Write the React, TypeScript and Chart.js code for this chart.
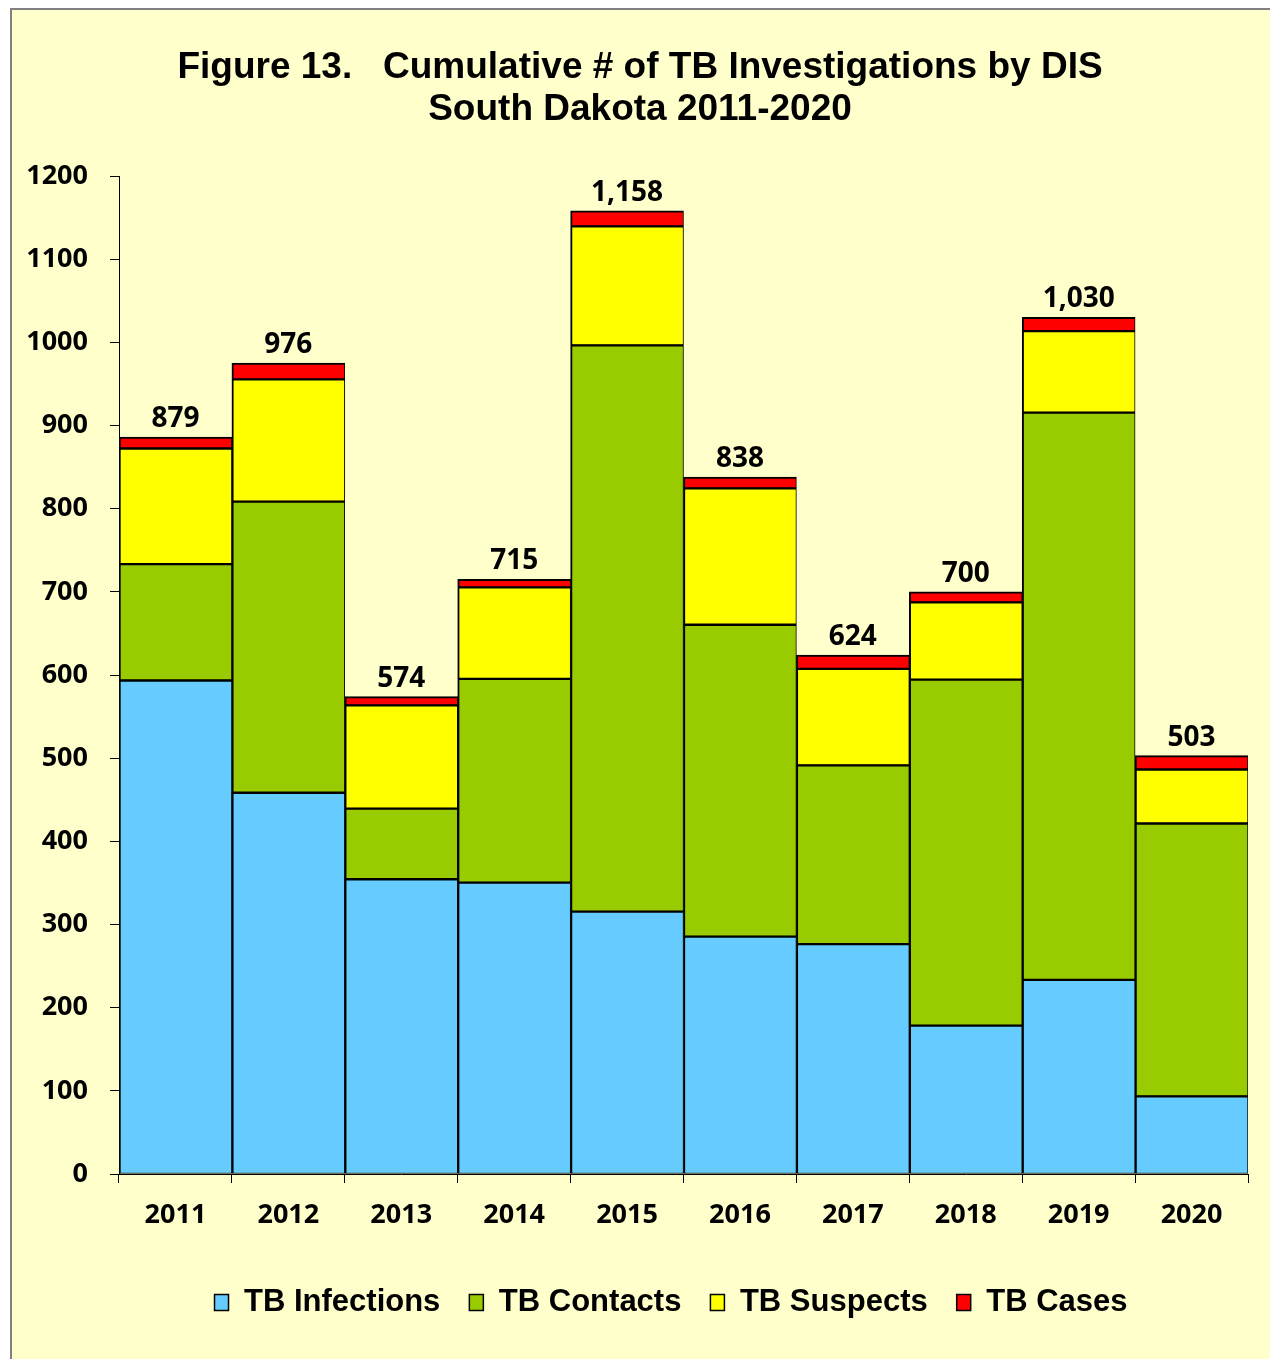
import { useEffect, useRef } from "react";
import { Chart, registerables } from "chart.js";

Chart.register(...registerables);

const years = ["2011", "2012", "2013", "2014", "2015", "2016", "2017", "2018", "2019", "2020"];
const infections = [594, 459, 355, 351, 316, 286, 277, 179, 234, 94];
const contacts = [140, 350, 85, 245, 681, 375, 215, 416, 682, 328];
const suspects = [139, 147, 124, 110, 143, 164, 116, 93, 98, 65];
const cases = [13, 19, 10, 9, 18, 13, 16, 12, 16, 16];
const totalLabels = ["879", "976", "574", "715", "1,158", "838", "624", "700", "1,030", "503"];
const titleLines = ["Figure 13.   Cumulative # of TB Investigations by DIS", "South Dakota 2011-2020"];

const tickFont = { family: "'Open Sans', sans-serif", weight: "bold" as const, size: 27 };

export default function App() {
  const ref = useRef<HTMLCanvasElement>(null);

  useEffect(() => {
    const canvas = ref.current;
    if (!canvas) return;

    const bw = { top: 2, bottom: 1, left: 2, right: 1 };

    const extras = {
      id: "extras",
      afterLayout(chart: any) {
        const lg = chart.legend;
        if (lg) {
          lg.left += 41;
          lg.right += 41;
        }
      },
      afterDraw(chart: any) {
        const ctx = chart.ctx as CanvasRenderingContext2D;
        ctx.save();
        ctx.fillStyle = "#000";
        ctx.textAlign = "center";
        ctx.textBaseline = "alphabetic";
        ctx.font = "bold 37px 'Liberation Sans', Arial, sans-serif";
        ctx.fillText(titleLines[0], 628, 68);
        ctx.fillText(titleLines[1], 628, 110);

        ctx.font = "bold 28px 'Open Sans', sans-serif";
        const meta = chart.getDatasetMeta(3);
        meta.data.forEach((el: any, i: number) => {
          const p = el.getProps(["x", "y"], true);
          ctx.fillText(totalLabels[i], p.x, p.y - 10);
        });
        ctx.restore();
      },
    };

    const chart = new Chart(canvas, {
      type: "bar",
      data: {
        labels: years,
        datasets: [
          { label: "TB Infections", data: infections, backgroundColor: "#66CCFF", borderColor: "#000", borderWidth: bw, borderSkipped: false },
          { label: "TB Contacts", data: contacts, backgroundColor: "#99CC00", borderColor: "#000", borderWidth: bw, borderSkipped: false },
          { label: "TB Suspects", data: suspects, backgroundColor: "#FFFF00", borderColor: "#000", borderWidth: bw, borderSkipped: false },
          { label: "TB Cases", data: cases, backgroundColor: "#FF0000", borderColor: "#000", borderWidth: bw, borderSkipped: false },
        ],
      },
      options: {
        responsive: false,
        animation: false,
        devicePixelRatio: 1,
        layout: { padding: { left: 0, right: 22, top: 166, bottom: 31 } },
        datasets: { bar: { categoryPercentage: 1, barPercentage: 1 } },
        scales: {
          x: {
            stacked: true,
            grid: { offset: true, drawOnChartArea: false, drawTicks: true, tickLength: 9, color: "#000" },
            border: { display: true, color: "#000", width: 1 },
            ticks: { color: "#000", font: tickFont, padding: 16, maxRotation: 0, autoSkip: false },
            afterFit: (s: any) => {
              s.height = 84;
            },
          },
          y: {
            stacked: true,
            min: 0,
            max: 1200,
            grid: { drawOnChartArea: false, drawTicks: true, tickLength: 9, color: "#000" },
            border: { display: true, color: "#000", width: 1 },
            ticks: {
              stepSize: 100,
              color: "#000",
              font: tickFont,
              padding: 22,
              callback: (v: any) => String(v),
            },
            afterFit: (s: any) => {
              s.width = 107;
            },
          },
        },
        plugins: {
          legend: {
            position: "bottom",
            labels: {
              boxWidth: 14,
              boxHeight: 16,
              padding: 29,
              color: "#000",
              font: { family: "'Liberation Sans', Arial, sans-serif", weight: "bold", size: 31 },
            },
          },
          title: { display: false },
          tooltip: { enabled: false },
        },
      } as any,
      plugins: [extras],
    });

    return () => chart.destroy();
  }, []);

  return (
    <div
      style={{
        position: "absolute",
        left: 10,
        top: 8,
        width: 1260,
        height: 1351,
        boxSizing: "border-box",
        borderLeft: "2px solid #808080",
        borderTop: "2px solid #808080",
        background: "#FFFFCC",
        overflow: "hidden",
      }}
    >
      <canvas ref={ref} width={1258} height={1349} style={{ display: "block" }} />
    </div>
  );
}
